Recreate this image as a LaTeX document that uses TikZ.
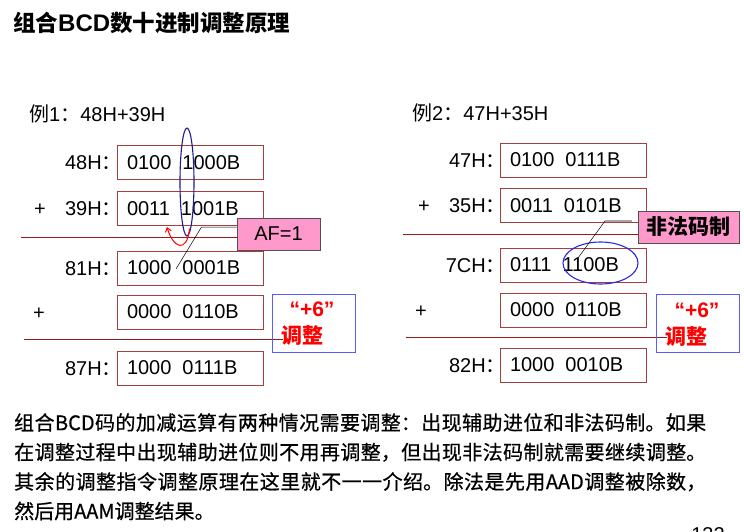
\documentclass[tikz,border=0pt]{standalone}
\usepackage{fontspec}
\setmainfont{Liberation Sans}
\newfontfamily\cjk{Noto Sans CJK SC}
\newfontfamily\cjkheavy[FakeBold=0.6]{Noto Sans CJK SC}
\usetikzlibrary{shapes.geometric,shadows,arrows.meta}

\definecolor{boxred}{RGB}{165,62,62}
\definecolor{rulered}{RGB}{150,28,28}
\definecolor{ovalnavy}{RGB}{30,30,140}
\definecolor{ovalblue}{RGB}{40,40,230}
\definecolor{adjblue}{RGB}{90,90,255}
\definecolor{tagpink}{RGB}{255,153,204}
\definecolor{tagborder}{RGB}{80,80,80}
\definecolor{adjred}{RGB}{255,0,0}

% full-width colon hanging after a hex label
\newcommand\fwcolon{\rlap{\cjk ：}}
\newcommand\gap{\hspace{11pt}}

\tikzset{
  sz20/.style={font=\fontsize{20}{24}\selectfont},
  bin/.style={draw=boxred, line width=0.9pt, minimum width=146pt, minimum height=34pt,
              text width=126pt, inner xsep=10pt, inner ysep=0pt, align=left, sz20},
  lbl/.style={anchor=base east, inner sep=0pt, sz20},
  plus/.style={anchor=base, inner sep=0pt, sz20},
  hrule/.style={draw=rulered, line width=0.9pt},
  tag/.style={draw=tagborder, fill=tagpink, line width=1pt, inner sep=0pt,
              drop shadow={shadow xshift=1.3pt, shadow yshift=-1.3pt, fill=black!60, opacity=0.6}},
  adjbox/.style={draw=adjblue, line width=1pt, minimum width=83pt, minimum height=58pt, inner sep=0pt},
  adjtxt/.style={text=adjred, inner sep=0pt, font=\fontsize{21}{24}\selectfont\bfseries},
  lead/.style={draw=black, line width=0.5pt},
}

\begin{document}
\begin{tikzpicture}[x=1pt,y=-1pt]
\clip (0,0) rectangle (744,531);
\fill[white] (0,0) rectangle (744,531);

% title
\node[anchor=base west, inner sep=0pt] (title) at (13,31.5)
  {{\cjk\bfseries\fontsize{22.5}{26}\selectfont 组合}{\bfseries\fontsize{24}{26}\selectfont BCD}{\cjk\bfseries\fontsize{22.5}{26}\selectfont 数十进制调整原理}};

% ---------- example 1 ----------
\node[anchor=base west, inner sep=0pt, sz20] (ex1) at (29,121) {{\cjk 例}1{\cjk ：}48H+39H};

\draw[hrule] (21,237) -- (240,237);
\draw[hrule] (24,339) -- (283,339);

\node[bin] (a1) at (190,162.5) {0100\gap 1000B};
\node[bin] (a2) at (190,208.5) {0011\gap 1001B};
\node[bin] (a3) at (190,268)   {1000\gap 0001B};
\node[bin] (a4) at (190,312)   {0000\gap 0110B};
\node[bin] (a5) at (190,368)   {1000\gap 0111B};

\node[lbl] (la1) at (102,169.7) {48H\fwcolon};
\node[lbl] (la2) at (102,215.7) {39H\fwcolon};
\node[lbl] (la3) at (102,275.2) {81H\fwcolon};
\node[lbl] (la5) at (102,375.2) {87H\fwcolon};
\node[plus] (pa2) at (40,215.7) {+};
\node[plus] (pa4) at (39,319.2) {+};

% low-nibble carry
\node[draw=ovalnavy, line width=1.1pt, ellipse, minimum width=14pt, minimum height=108pt, inner sep=0pt] (ovL) at (187,182) {};
\coordinate (carryTip) at (167,227);
\draw[adjred, line width=1pt, -{Straight Barb[length=4pt,width=6pt]}]
  ([xshift=2.5pt,yshift=8pt]ovL.south) .. controls (187,254) and (173,248) .. (carryTip);

\node[tag, minimum width=83pt, minimum height=32pt, sz20] (af) at (278.5,234) {AF=1};
\coordinate (afPt) at (176,269);
\draw[lead] ([yshift=7pt]af.west) -- ++(-35,0) -- (afPt);

\node[adjbox] (adjL) at (313.5,323) {};
\node[adjtxt] (sixL) at (312,309.5) {“+6”};
\node[adjtxt, anchor=west] (tuneL) at (281,335.5) {\cjk\bfseries 调整};

% ---------- example 2 ----------
\node[anchor=base west, inner sep=0pt, sz20] (ex2) at (412,120) {{\cjk 例}2{\cjk ：}47H+35H};

\draw[hrule] (403,234) -- (640,234);
\draw[hrule] (406,337) -- (667,337);

\node[bin] (b1) at (573,160)   {0100\gap 0111B};
\node[bin] (b2) at (573,205.5) {0011\gap 0101B};
\node[bin] (b3) at (573,265)   {0111\gap 1100B};
\node[bin] (b4) at (573,310)   {0000\gap 0110B};
\node[bin] (b5) at (573,365)   {1000\gap 0010B};

\node[lbl] (lb1) at (486,167.2) {47H\fwcolon};
\node[lbl] (lb2) at (486,212.7) {35H\fwcolon};
\node[lbl] (lb3) at (486,272.2) {7CH\fwcolon};
\node[lbl] (lb5) at (486,372.2) {82H\fwcolon};
\node[plus] (pb2) at (424,212.7) {+};
\node[plus] (pb4) at (421,317.2) {+};

% illegal low nibble
\node[draw=ovalblue, line width=1.1pt, ellipse, minimum width=75pt, minimum height=42pt, inner sep=0pt] (ovR) at (600.5,263) {};

\node[tag, minimum width=101pt, minimum height=32pt] (ill) at (688.5,227)
  {\cjk\bfseries\fontsize{21}{24}\selectfont 非法码制};
\coordinate (illKnee) at (605,221);
\coordinate (illPt) at (578,258);
\draw[gray!70, line width=1.3pt] ([yshift=6pt,xshift=-6pt]ill.west) -- (illKnee);
\draw[lead] (illKnee) -- (illPt);

\node[adjbox] (adjR) at (697.5,323) {};
\node[adjtxt] (sixR) at (697,310) {“+6”};
\node[adjtxt, anchor=west] (tuneR) at (665,336.5) {\cjk\bfseries 调整};

% ---------- explanation ----------
\node[anchor=north west, inner sep=0pt, text width=692pt, align=justify,
      font=\cjkheavy\fontsize{20}{29.5}\selectfont] (note) at (14,413)
{\XeTeXlinebreaklocale "zh"\XeTeXlinebreakskip=0pt plus 3pt minus 0.6pt\tolerance=10000\noindent
组合BCD码的加减运算有两种情况需要调整：出现辅助进位和非法码制。如果\linebreak
在调整过程中出现辅助进位则不用再调整，但出现非法码制就需要继续调整。\linebreak
其余的调整指令调整原理在这里就不一一介绍。除法是先用AAD调整被除数，\linebreak
然后用AAM调整结果。};

% page number, cut by the lower edge
\node[anchor=base, inner sep=0pt, sz20] (pageno) at (708,541.5) {132};
\end{tikzpicture}
\end{document}
